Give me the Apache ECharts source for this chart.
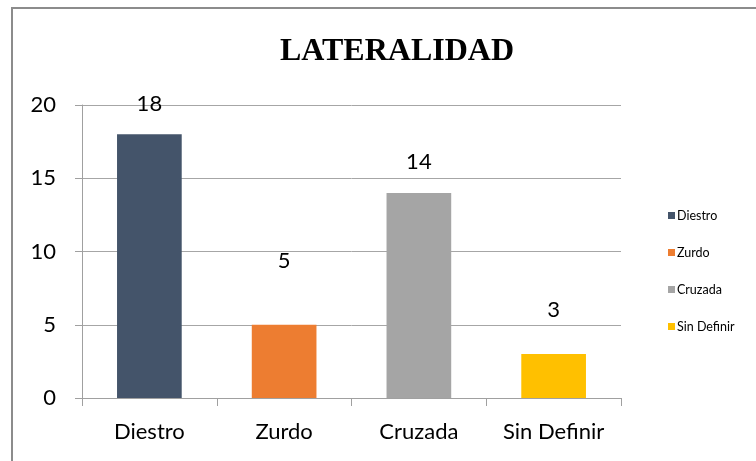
<!DOCTYPE html>
<html>
<head>
<meta charset="utf-8">
<script src="https://cdn.jsdelivr.net/npm/echarts@6/dist/echarts.min.js"></script>
<style>
  html, body { margin: 0; padding: 0; background: #fff; }
  #chart { width: 756px; height: 461px; }
</style>
</head>
<body>
<div id="chart"></div>
<script>
// datos
const categories = ['Diestro', 'Zurdo', 'Cruzada', 'Sin Definir'];
const values = [18, 5, 14, 3];
const yTicks = [0, 5, 10, 15, 20];

const colors = ['#44546A', '#ED7D31', '#A5A5A5', '#FFC000'];
// distancia de cada etiqueta sobre su barra (como en el original)
const labelGap = [19, 53, 20, 33];

const myChart = echarts.init(document.getElementById('chart'));

const series = [];
categories.forEach((name, i) => {
  series.push({
    name,
    type: 'bar',
    stack: 'total',
    barWidth: '48%',
    itemStyle: { color: colors[i] },
    label: {
      show: true,
      position: 'top',
      distance: labelGap[i],
      color: '#000',
      fontFamily: 'Lato',
      fontSize: 22,
    },
    data: categories.map((c, j) => (j === i ? values[j] : '-')),
  });
});

const option = {
  animation: false,
  color: colors,
  title: {
    text: 'LATERALIDAD',
    left: 392,
    textAlign: 'center',
    top: 31,
    textStyle: {
      fontFamily: 'Liberation Serif',
      fontWeight: 'bold',
      fontSize: 32,
      color: '#000',
    },
  },
  legend: {
    orient: 'vertical',
    left: 663,
    top: 204,
    itemWidth: 7,
    itemHeight: 7,
    itemGap: 24,
    icon: 'rect',
    textStyle: { fontFamily: 'Lato', fontSize: 12.5, color: '#000', padding: [0, 0, 0, -3] },
    data: categories,
  },
  grid: {
    left: 82,
    right: 135,
    top: 105,
    bottom: 63,
  },
  xAxis: {
    type: 'category',
    data: categories,
    axisLine: { lineStyle: { color: '#a0a0a0', width: 1 } },
    axisTick: { show: true, length: 8, lineStyle: { color: '#a0a0a0' } },
    axisLabel: { color: '#000', fontFamily: 'Lato', fontSize: 22, margin: 23 },
  },
  yAxis: {
    type: 'value',
    min: yTicks[0],
    max: yTicks[yTicks.length - 1],
    interval: yTicks[1] - yTicks[0],
    axisLine: { show: true, lineStyle: { color: '#a0a0a0', width: 1 } },
    axisTick: { show: true, length: 7, lineStyle: { color: '#a0a0a0' } },
    axisLabel: { color: '#000', fontFamily: 'Lato', fontSize: 22, margin: 26 },
    splitLine: { lineStyle: { color: '#a6a6a6', width: 1 } },
  },
  graphic: [
    {
      type: 'polyline',
      shape: { points: [[12, 461], [12, 8], [756, 8]] },
      style: { stroke: '#8c8c8c', lineWidth: 2, fill: null },
      silent: true,
    },
  ],
  series,
};

myChart.setOption(option);
</script>
</body>
</html>
